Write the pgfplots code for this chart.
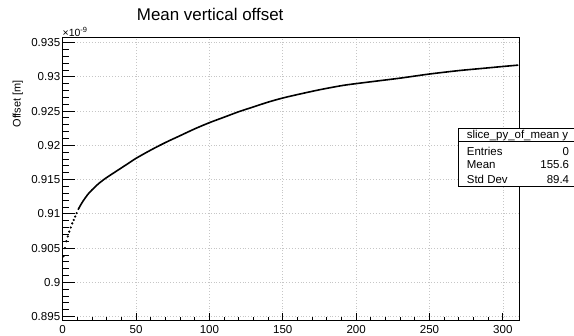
\documentclass[border=0pt]{standalone}
\usepackage{fontspec}
\setmainfont{Liberation Sans}
\usepackage{pgfplots}
\usepackage{pgfplotstable}
\pgfplotsset{compat=1.18}
\pgfplotstableread{
x y
0.5 0.9038
1.5 0.9050
2.5 0.9060
3.5 0.9067
4.5 0.9074
5.5 0.9080
6.5 0.9086
7.5 0.9091
8.5 0.9096
9.5 0.9101
}\early
\pgfplotstableread{
x y
10.5 0.9106
12 0.9112
14 0.9119
17 0.9128
20 0.9135
25 0.9145
30 0.9153
35 0.9160
40 0.9167
45 0.9174
50 0.9181
60 0.9193
70 0.9204
80 0.9214
90 0.9224
100 0.9233
110 0.9241
120 0.9249
130 0.9256
140 0.9263
150 0.9269
160 0.9274
175 0.9281
190 0.9287
200 0.9290
215 0.9294
230 0.9298
250 0.9304
270 0.9309
285 0.9312
300 0.9315
310.5 0.9317
}\late
\begin{document}
\begin{tikzpicture}[x=1bp,y=1bp]
\useasboundingbox (0,0) rectangle (574,335);
\pgfplotsset{
  common/.style={
    at={(62.7bp,14.3bp)}, anchor=south west,
    scale only axis, width=456.3bp, height=283bp,
    xmin=0, xmax=311, ymin=0.8944, ymax=0.9357,
    axis line style={line width=0.9bp, black},
    tick align=inside, xtick pos=left, ytick pos=left,
    xtick={0,50,100,150,200,250,300}, minor x tick num=4,
    ytick={0.895,0.9,0.905,0.91,0.915,0.92,0.925,0.93,0.935}, minor y tick num=4,
    scaled y ticks=false, scaled x ticks=false,
    every tick/.style={black, line width=0.8bp},
  }
}
\begin{axis}[common,
  major tick length=12.7bp, minor tick length=6bp,
  xtick style={draw=none},
  grid=major,
  major grid style={dash pattern=on 0.7bp off 2.2bp, gray!45, line width=0.7bp},
  /pgf/number format/.cd, fixed, precision=3, assume math mode=true,
  /pgfplots/.cd,
  yticklabel style={font=\fontsize{11.6}{12}\selectfont, inner sep=0pt, anchor=east, xshift=-2.3bp},
  xticklabel style={font=\fontsize{11.6}{12}\selectfont, inner sep=0pt, anchor=north, yshift=-4.8bp},
]
\addplot[only marks, mark=*, mark size=0.9bp, black] table {\early};
\addplot[line width=1.6bp, black, mark=none, smooth, tension=0.5] table {\late};
\end{axis}
\begin{axis}[common,
  major tick length=8bp, minor tick length=4bp,
  ytick=\empty, minor ytick={}, xticklabels={},
]
\end{axis}
\node[anchor=base west, inner sep=0pt, font=\fontsize{17}{19}\selectfont] at (136.7,314.3) {Mean vertical offset};
\node[anchor=base west, inner sep=0pt, font=\fontsize{10.5}{12}\selectfont] at (62.5,298.3) {×10\raisebox{0.42em}{\fontsize{7.5}{8}\selectfont -9}};
\node[rotate=90, anchor=base east, inner sep=0pt, font=\fontsize{11}{12}\selectfont] at (20.7,255) {Offset [m]};
\draw[fill=white, line width=0.8bp] (458.3,148.3) rectangle (576,206.7);
\draw[line width=0.8bp] (458.3,193.3) -- (576,193.3);
\begin{scope}[every node/.style={inner sep=0pt, font=\fontsize{11.5}{12}\selectfont}]
\node[anchor=base] at (517.5,196.7) {slice\_py\_of\_mean y};
\node[anchor=base west] at (466.7,180) {Entries};
\node[anchor=base east] at (569.3,180) {0};
\node[anchor=base west] at (466.7,166.7) {Mean};
\node[anchor=base east] at (569.3,166.7) {155.6};
\node[anchor=base west] at (466.7,151.7) {Std Dev};
\node[anchor=base east] at (569.3,151.7) {89.4};
\end{scope}
\end{tikzpicture}
\end{document}
